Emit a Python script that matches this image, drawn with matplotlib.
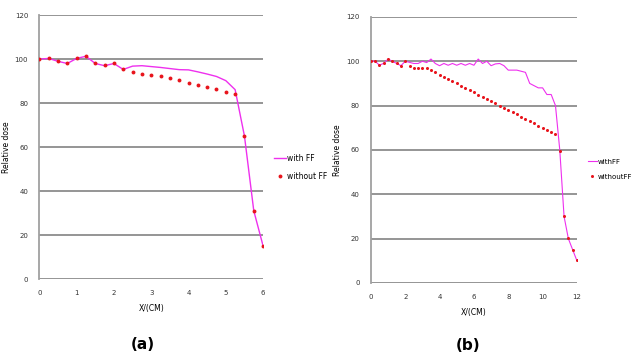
import numpy as np
import matplotlib
matplotlib.use("Agg")
import matplotlib.pyplot as plt

# panel (a): 0..6 cm, 0.25 steps
x_a = [0, 0.25, 0.5, 0.75, 1, 1.25, 1.5, 1.75, 2, 2.25, 2.5, 2.75, 3, 3.25,
       3.5, 3.75, 4, 4.25, 4.5, 4.75, 5, 5.25, 5.5, 5.75, 6]
with_ff_a = [100, 100.3, 99, 98, 100.3, 101.3, 98, 97, 98, 95.3, 96.8, 97, 96.6,
             96.2, 95.7, 95.2, 95.1, 94.2, 93.2, 92.1, 90.2, 86.1, 65, 31, 15]
without_ff_a = [100, 100.4, 99.1, 98.2, 100.4, 101.4, 98.2, 97.3, 98.3, 95.3,
                94.2, 93.2, 92.7, 92.1, 91.2, 90.3, 89.1, 88.2, 87.1, 86.2,
                85.2, 84.1, 65.2, 31.1, 14.8]

# panel (b): 0..12 cm
x_b = [0, 0.25, 0.5, 0.75, 1, 1.25, 1.5, 1.75, 2, 2.25, 2.5, 2.75, 3, 3.25,
       3.5, 3.75, 4, 4.25, 4.5, 4.75, 5, 5.25, 5.5, 5.75, 6, 6.25, 6.5, 6.75,
       7, 7.25, 7.5, 7.75, 8, 8.25, 8.5, 8.75, 9, 9.25, 9.5, 9.75, 10, 10.25,
       10.5, 10.75, 11, 11.25, 11.5, 11.75, 12]
with_ff_b = [100, 100, 98.2, 99.1, 101, 100, 99, 98, 100, 99.5, 99, 99, 100,
             99.4, 101, 99, 98, 99, 98.2, 99, 98.2, 99, 98.2, 99, 98.2, 101,
             99, 100, 98, 98.8, 99, 98, 96, 96, 96, 95.5, 95, 90, 89, 88, 88,
             85, 85, 80, 60, 30, 20, 15, 10]
without_ff_b = [100, 100, 98.2, 99.1, 101, 100, 99, 98, 100, 98, 97, 97, 97,
                97, 96, 95, 94, 93, 92, 91, 90, 89, 88, 87, 86, 85, 84, 83,
                82, 81, 80, 79, 78, 77, 76, 75, 74, 73, 72, 71, 70, 69, 68.2,
                67.2, 59.6, 30, 20.2, 15, 10.4]

line_col = "#ee30ee"
dot_col = "#e8141c"
grid_col = "#8c8c8c"

fig = plt.figure(figsize=(6.34, 3.6), dpi=100)
ax_a = fig.add_axes([0.062, 0.225, 0.353, 0.733])
ax_b = fig.add_axes([0.585, 0.214, 0.325, 0.739])


def style(ax, xmax, xstep):
    ax.set_xlim(0, xmax)
    ax.set_ylim(0, 120)
    ax.set_yticks(range(0, 121, 20))
    ax.set_xticks(np.arange(0, xmax + 0.01, xstep))
    ax.grid(axis="y", color=grid_col, linewidth=1.3)
    ax.set_axisbelow(True)
    for s in ["top", "right", "bottom"]:
        ax.spines[s].set_visible(False)
    ax.spines["left"].set_color("#a0a0a0")
    ax.spines["left"].set_linewidth(1.3)
    ax.tick_params(length=0, labelsize=5, colors="#333333", pad=8)
    ax.set_ylabel("Relative dose", fontsize=5.5, labelpad=3)
    ax.set_xlabel("X/(CM)", fontsize=5.5, labelpad=6)


style(ax_a, 6, 1)
ax_a.plot(x_a, with_ff_a, color=line_col, lw=1, label="with FF", zorder=2)
ax_a.plot(x_a, without_ff_a, "o", color=dot_col, ms=2.8, mec="none",
          label="without FF", zorder=3)
ax_a.legend(loc="center left", bbox_to_anchor=(0.422, 0.535),
            bbox_transform=fig.transFigure, frameon=False, fontsize=5.5,
            handlelength=1.5, handletextpad=0.2, labelspacing=1.2)

style(ax_b, 12, 2)
ax_b.plot(x_b, with_ff_b, color=line_col, lw=0.8, label="withFF", zorder=2)
ax_b.plot(x_b, without_ff_b, "o", color=dot_col, ms=2.2, mec="none",
          label="withoutFF", zorder=3)
ax_b.legend(loc="center left", bbox_to_anchor=(0.918, 0.53),
            bbox_transform=fig.transFigure, frameon=False, fontsize=5,
            handlelength=1.2, handletextpad=0.1, labelspacing=1.3)

fig.text(0.225, 0.03, "(a)", fontsize=11, fontweight="bold", ha="center")
fig.text(0.738, 0.027, "(b)", fontsize=11, fontweight="bold", ha="center")

fig.savefig("out.png", dpi=100)
